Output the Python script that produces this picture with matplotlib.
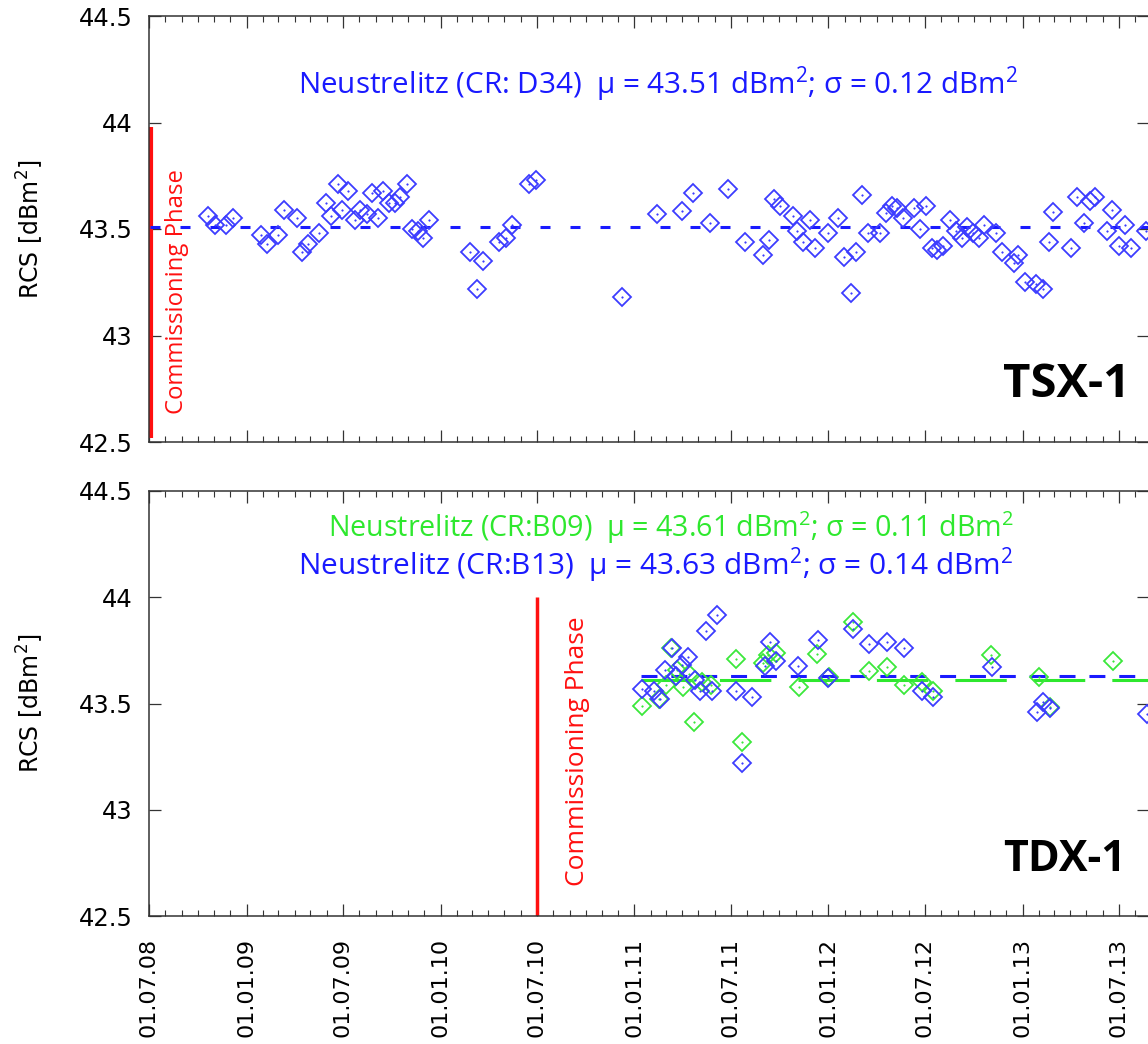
import matplotlib
matplotlib.use("Agg")
import matplotlib.pyplot as plt
import matplotlib.dates as mdates
import numpy as np
import pandas as pd

plt.rcParams['lines.scale_dashes'] = False

# ---------------- data ----------------
tsx_dates = ["2008-10-20", "2008-11-02", "2008-11-23", "2008-12-06", "2009-01-28", "2009-02-08",
             "2009-03-01", "2009-03-12", "2009-04-06", "2009-04-15", "2009-04-26", "2009-05-17",
             "2009-05-30", "2009-06-09", "2009-06-22", "2009-06-30", "2009-07-11", "2009-07-24",
             "2009-08-03", "2009-08-15", "2009-08-25", "2009-09-05", "2009-09-15", "2009-09-26",
             "2009-10-08", "2009-10-17", "2009-10-30", "2009-11-08", "2009-11-19", "2009-11-29",
             "2009-12-10", "2010-02-26", "2010-03-11", "2010-03-22", "2010-04-21", "2010-05-04",
             "2010-05-16", "2010-06-17", "2010-06-30", "2010-12-09", "2011-02-13", "2011-03-31",
             "2011-04-22", "2011-05-24", "2011-06-27", "2011-07-29", "2011-09-01", "2011-09-12",
             "2011-09-21", "2011-10-03", "2011-10-26", "2011-11-04", "2011-11-15", "2011-11-28",
             "2011-12-08", "2011-12-31", "2012-01-20", "2012-01-31", "2012-02-12", "2012-02-23",
             "2012-03-04", "2012-03-15", "2012-04-07", "2012-04-18", "2012-05-01", "2012-05-10",
             "2012-05-20", "2012-06-11", "2012-06-22", "2012-07-04", "2012-07-15", "2012-07-24",
             "2012-08-05", "2012-08-17", "2012-08-28", "2012-09-08", "2012-09-19", "2012-09-30",
             "2012-10-10", "2012-10-21", "2012-11-11", "2012-11-24", "2012-12-15", "2012-12-24",
             "2013-01-05", "2013-01-26", "2013-02-08", "2013-02-19", "2013-02-28", "2013-04-03",
             "2013-04-14", "2013-04-26", "2013-05-07", "2013-05-18", "2013-06-08", "2013-06-19",
             "2013-07-01", "2013-07-12", "2013-07-24", "2013-08-21"]
tsx_rcs = [43.56, 43.52, 43.52, 43.55, 43.47, 43.43,
           43.47, 43.59, 43.55, 43.39, 43.43, 43.48,
           43.62, 43.56, 43.71, 43.59, 43.68, 43.54,
           43.59, 43.57, 43.67, 43.55, 43.68, 43.62,
           43.62, 43.65, 43.71, 43.50, 43.49, 43.46,
           43.54, 43.39, 43.22, 43.35, 43.44, 43.46,
           43.52, 43.71, 43.73, 43.18, 43.57, 43.585,
           43.67, 43.53, 43.69, 43.44, 43.38, 43.45,
           43.64, 43.61, 43.56, 43.49, 43.44, 43.54,
           43.41, 43.48, 43.55, 43.37, 43.20, 43.39,
           43.66, 43.48, 43.48, 43.575, 43.61, 43.60,
           43.55, 43.60, 43.50, 43.61, 43.41, 43.40,
           43.42, 43.54, 43.49, 43.46, 43.51, 43.48,
           43.46, 43.52, 43.48, 43.39, 43.34, 43.38,
           43.25, 43.24, 43.22, 43.44, 43.58, 43.41,
           43.65, 43.53, 43.63, 43.65, 43.49, 43.59,
           43.42, 43.52, 43.41, 43.49]

b13_dates = ["2011-01-16", "2011-02-06", "2011-02-19", "2011-02-28", "2011-03-13", "2011-03-21",
             "2011-04-01", "2011-04-12", "2011-04-25", "2011-05-05", "2011-05-16", "2011-05-27",
             "2011-06-06", "2011-07-12", "2011-07-22", "2011-08-11", "2011-09-03", "2011-09-14",
             "2011-09-25", "2011-11-06", "2011-12-12", "2012-01-01", "2012-02-16", "2012-03-17",
             "2012-04-21", "2012-05-23", "2012-06-26", "2012-07-17", "2012-11-04", "2013-01-29",
             "2013-02-09", "2013-02-22", "2013-08-24"]
b13_rcs = [43.57, 43.56, 43.52, 43.66, 43.76, 43.63,
           43.68, 43.72, 43.61, 43.56, 43.84, 43.56,
           43.915, 43.56, 43.22, 43.53, 43.675, 43.79,
           43.70, 43.675, 43.80, 43.62, 43.85, 43.78,
           43.79, 43.76, 43.56, 43.53, 43.67, 43.46,
           43.505, 43.48, 43.45]

b09_dates = ["2011-01-16", "2011-02-17", "2011-03-02", "2011-03-11", "2011-03-23", "2011-04-03",
             "2011-04-14", "2011-04-24", "2011-05-09", "2011-05-26", "2011-07-12", "2011-07-22",
             "2011-09-01", "2011-09-10", "2011-09-24", "2011-11-07", "2011-12-10", "2012-01-02",
             "2012-02-16", "2012-03-17", "2012-04-21", "2012-05-23", "2012-06-26", "2012-07-17",
             "2012-11-03", "2013-01-31", "2013-02-22", "2013-06-21"]
b09_rcs = [43.49, 43.52, 43.585, 43.76, 43.66, 43.58,
           43.64, 43.415, 43.60, 43.585, 43.71, 43.32,
           43.69, 43.73, 43.74, 43.58, 43.735, 43.625,
           43.885, 43.655, 43.67, 43.585, 43.60, 43.56,
           43.73, 43.625, 43.485, 43.70]

tsx_mean, tsx_std = 43.51, 0.12
b09_mean, b09_std = 43.61, 0.11
b13_mean, b13_std = 43.63, 0.14

tsx_commissioning = "2008-07-04"
tdx_commissioning = "2010-07-01"
tsx_mean_start = "2008-07-03"
tdx_mean_start = "2011-01-14"
x_start, x_end = "2008-07-01", "2013-08-27"
y_ticks = [42.5, 43, 43.5, 44, 44.5]
y_ticklabels = ["42.5", "43", "43.5", "44", "44.5"]

# ---------------- figure ----------------
W, H = 1148, 1044
fig = plt.figure(figsize=(W / 100, H / 100), dpi=100)

def px_axes(l, t, r, b):
    return [l / W, 1 - b / H, (r - l) / W, (b - t) / H]

ax1 = fig.add_axes(px_axes(149, 16, 1149, 442))
ax2 = fig.add_axes(px_axes(149, 491, 1149, 916))

BLUE = '#1a1aff'
BLUE_M = '#3c3cff'
GREEN = '#2ee82e'
GREEN_M = '#3be83b'
RED = '#ff1010'
TXT_FONT = ['Open Sans', 'DejaVu Sans']

xs, xe = pd.Timestamp(x_start), pd.Timestamp(x_end)

def style_axis(ax, labels):
    ax.set_xlim(xs, xe)
    ax.set_ylim(42.5, 44.5)
    ax.set_yticks(y_ticks)
    ax.set_yticklabels(y_ticklabels)
    ax.xaxis.set_major_locator(mdates.MonthLocator(bymonth=[1, 7]))
    ax.xaxis.set_minor_locator(mdates.MonthLocator())
    ax.xaxis.set_major_formatter(mdates.DateFormatter('%d.%m.%y'))
    ax.tick_params(axis='both', which='major', direction='in', length=8.5, width=0.9,
                   top=True, right=True, color='#333333', labelsize=17.5, pad=12)
    ax.tick_params(axis='x', which='minor', direction='in', length=4.3, width=0.8,
                   top=True, color='#333333')
    ax.tick_params(axis='y', which='minor', left=False, right=False)
    for s in ax.spines.values():
        s.set_linewidth(1.1)
        s.set_color('#333333')
    if labels:
        ax.tick_params(axis='x', which='major', labelrotation=90, labelsize=16, pad=16)
    else:
        ax.tick_params(axis='x', which='major', labelbottom=False)
    ax.text(-0.119, 0.5, r'RCS [dBm$^{\mathregular{2}}$]', transform=ax.transAxes,
            rotation=90, ha='center', va='center', fontsize=17, family=['DejaVu Sans'])

style_axis(ax1, False)
style_axis(ax2, True)

def plot_points(ax, dates, vals, color):
    d = pd.to_datetime(dates)
    ax.plot(d, vals, linestyle='none', marker='D', ms=8.8, mfc='none', mec=color, mew=1.3)
    ax.plot(d, vals, linestyle='none', marker='o', ms=1.2, mfc=color, mec=color, mew=0.3)

LABEL = (r'Neustrelitz (%s)  $\mathregular{\mu}$ = %.2f dBm$^{\mathregular{2}}$; '
         r'σ = %.2f dBm$^{\mathregular{2}}$')

# ---- top: TSX-1 ----
ax1.plot([pd.Timestamp(tsx_commissioning)] * 2, [42.52, 43.98], color=RED, lw=3.0,
         solid_capstyle='butt')
ax1.plot([pd.Timestamp(tsx_mean_start), xe], [tsx_mean] * 2, color=BLUE, lw=2.2,
         dashes=(7.2, 14.4))
plot_points(ax1, tsx_dates, tsx_rcs, BLUE_M)
ax1.text(0.149, 0.838, LABEL % ('CR: D34', tsx_mean, tsx_std),
         transform=ax1.transAxes, ha='left', va='center', color=BLUE, fontsize=21.3,
         family=TXT_FONT)
ax1.text(0.028, 0.352, 'Commissioning Phase', transform=ax1.transAxes, rotation=90,
         ha='center', va='center', color=RED, fontsize=17.2, family=TXT_FONT)
ax1.text(0.854, 0.134, 'TSX-1', transform=ax1.transAxes, ha='left', va='center',
         fontsize=34, fontweight='bold', family=TXT_FONT)

# ---- bottom: TDX-1 ----
ax2.plot([pd.Timestamp(tdx_commissioning)] * 2, [42.5, 44.0], color=RED, lw=2.5,
         solid_capstyle='butt')
ax2.plot([pd.Timestamp(tdx_mean_start), xe], [b09_mean] * 2, color=GREEN, lw=2.2,
         dashes=(37, 19.5))
ax2.plot([pd.Timestamp(tdx_mean_start), xe], [b13_mean] * 2, color=BLUE, lw=2.2,
         dashes=(11.5, 10))
plot_points(ax2, b09_dates, b09_rcs, GREEN_M)
plot_points(ax2, b13_dates, b13_rcs, BLUE_M)
ax2.text(0.179, 0.915, LABEL % ('CR:B09', b09_mean, b09_std),
         transform=ax2.transAxes, ha='left', va='center', color=GREEN, fontsize=20.6,
         family=TXT_FONT)
ax2.text(0.149, 0.8235, LABEL % ('CR:B13', b13_mean, b13_std),
         transform=ax2.transAxes, ha='left', va='center', color=BLUE, fontsize=21.5,
         family=TXT_FONT)
ax2.text(0.428, 0.388, 'Commissioning Phase', transform=ax2.transAxes, rotation=90,
         ha='center', va='center', color=RED, fontsize=19, family=TXT_FONT)
ax2.text(0.854, 0.132, 'TDX-1', transform=ax2.transAxes, ha='left', va='center',
         fontsize=31, fontweight='bold', family=TXT_FONT)

fig.savefig('out.png', dpi=100)
